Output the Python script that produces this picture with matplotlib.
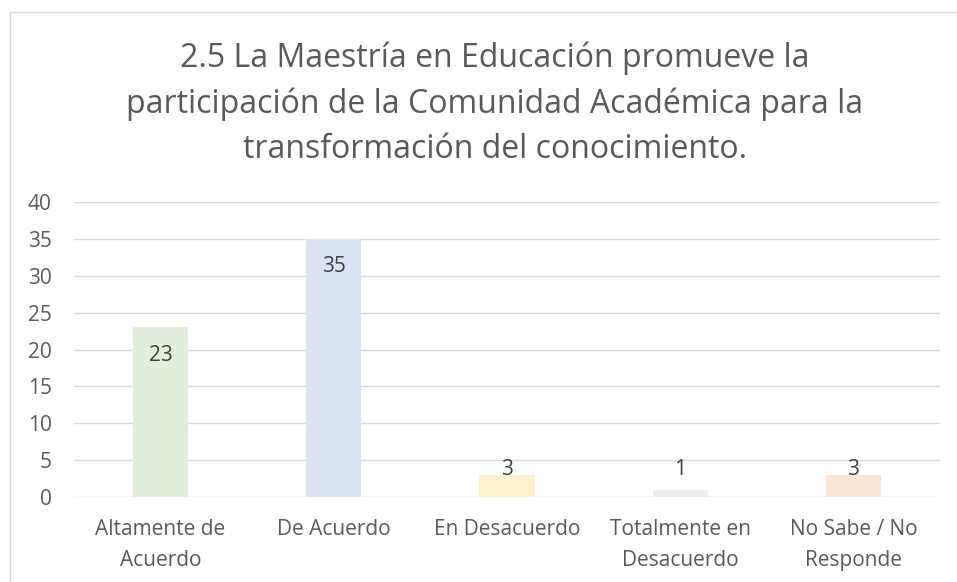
import matplotlib
matplotlib.use("Agg")
import matplotlib.pyplot as plt
from matplotlib.patches import Rectangle

categories = ["Altamente de\nAcuerdo", "De Acuerdo", "En Desacuerdo",
              "Totalmente en\nDesacuerdo", "No Sabe / No\nResponde"]
values = [23, 35, 3, 1, 3]
colors = ["#e2efda", "#dae3f3", "#fff2cc", "#ededed", "#fbe5d6"]
yticks = [0, 5, 10, 15, 20, 25, 30, 35, 40]
title = ("2.5 La Maestría en Educación promueve la\n"
         "participación de la Comunidad Académica para la\n"
         "transformación del conocimiento.")

plt.rcParams['font.family'] = ['Open Sans', 'DejaVu Sans']

W, H = 957, 582
fig = plt.figure(figsize=(W / 100, H / 100), dpi=100)
fig.patch.set_facecolor("white")

# chart border
fig.patches.append(Rectangle((10 / W, -0.1), 1.2, 1 - 12 / H + 0.1,
                             transform=fig.transFigure, fill=False,
                             edgecolor="#d9d9d9", linewidth=1.0))

ax = fig.add_axes([74 / W, 1 - 497 / H, (940 - 74) / W, (497 - 202) / H])
x = list(range(len(categories)))
ax.bar(x, values, width=0.318, color=colors, zorder=2)
ax.set_xlim(-0.5, len(categories) - 0.5)
ax.set_ylim(0, 40)
ax.set_yticks(yticks)
ax.set_xticks(x)
ax.set_xticklabels(categories, linespacing=1.6)
ax.grid(axis="y", color="#d9d9d9", linewidth=1.0, zorder=0)
for s in ax.spines.values():
    s.set_visible(False)
ax.tick_params(axis="both", length=0, labelsize=15, colors="#595959")
ax.tick_params(axis="y", pad=16)
ax.tick_params(axis="x", pad=16)

for xi, v in zip(x, values):
    ax.text(xi, max(v - 3.8, 3.7), str(v), ha="center", va="center",
            fontsize=15, color="#404040", zorder=3)

fig.text(495 / W, 1 - 104 / H, title, ha="center", va="center",
         fontsize=23, color="#595959", linespacing=1.48)

fig.savefig("out.png", dpi=100)
